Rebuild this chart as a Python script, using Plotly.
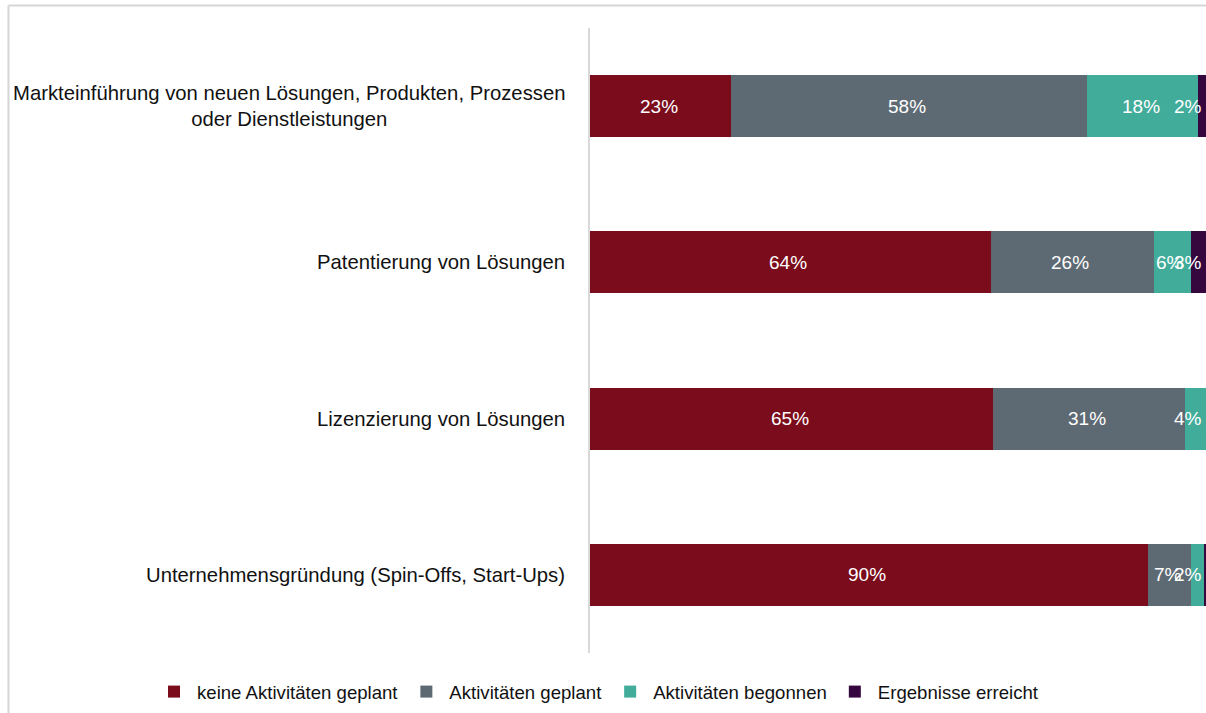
import plotly.graph_objects as go

# ---- data (percent shares as labelled in the chart) ----
categories = [
    "Markteinführung von neuen Lösungen, Produkten, Prozessen<br>oder Dienstleistungen",
    "Patentierung von Lösungen",
    "Lizenzierung von Lösungen",
    "Unternehmensgründung (Spin-Offs, Start-Ups)",
]
series_names = [
    "keine Aktivitäten geplant",
    "Aktivitäten geplant",
    "Aktivitäten begonnen",
    "Ergebnisse erreicht",
]
keine_aktivitaeten = [23, 64, 65, 90]
aktivitaeten_geplant = [58, 26, 31, 7]
aktivitaeten_begonnen = [18, 6, 4, 2]
ergebnisse_erreicht = [2, 3, 0, 1]

series_values = [keine_aktivitaeten, aktivitaeten_geplant,
                 aktivitaeten_begonnen, ergebnisse_erreicht]
colors = ["#7a0c1c", "#5e6a73", "#41ac9a", "#36063f"]

FONT = "Liberation Sans, Arial, sans-serif"
W, H = 1206, 713
ML, MR, MT, MB = 590, 0, 28, 60
plot_w = W - ML - MR
X_MAX = 99.35  # visible part of the 100 % axis (chart is cut at the right)

fig = go.Figure()
for name, vals, col in zip(series_names, series_values, colors):
    fig.add_trace(go.Bar(
        y=categories, x=vals, name=name, orientation="h",
        marker=dict(color=col, line=dict(width=0)),
        hoverinfo="x+name",
    ))

# data labels (white, centred in segment, pushed left if they would leave the chart)
annotations = []
for i, cat in enumerate(categories):
    total = sum(s[i] for s in series_values)
    cum = 0.0
    for s in series_values:
        v = s[i]
        share = v / total * 100
        mid = cum + share / 2
        cum += share
        if v < 2:
            continue
        txt = f"{v}%"
        half_px = 14
        mid_px = mid / X_MAX * plot_w
        if mid_px + half_px > plot_w - 5:
            annotations.append(dict(x=X_MAX, y=cat, xref="x", yref="y", text=txt,
                                    xanchor="right", xshift=-2, showarrow=False,
                                    font=dict(family=FONT, size=19, color="white")))
        else:
            annotations.append(dict(x=mid, y=cat, xref="x", yref="y", text=txt,
                                    xanchor="center", xshift=-2, showarrow=False,
                                    font=dict(family=FONT, size=19, color="white")))

# category labels (centre-aligned multi-line, right-anchored near the axis)
for cat in categories:
    annotations.append(dict(x=0, y=cat, xref="paper", yref="y", text=cat,
                            xanchor="right", xshift=-23, align="center",
                            showarrow=False,
                            font=dict(family=FONT, size=20.3, color="#111111")))

def px_x(px):
    return (px - ML) / plot_w

def px_y(py):
    return (H - MB - py) / (H - MT - MB)

shapes = [
    dict(type="line", xref="paper", yref="paper",
         x0=px_x(8.5), x1=px_x(1210), y0=px_y(5.5), y1=px_y(5.5),
         line=dict(color="#d6d6d6", width=2)),
    dict(type="line", xref="paper", yref="paper",
         x0=px_x(8.5), x1=px_x(8.5), y0=px_y(5.5), y1=px_y(716),
         line=dict(color="#d6d6d6", width=2)),
]

fig.update_layout(
    width=W, height=H, autosize=False,
    margin=dict(l=ML, r=MR, t=MT, b=MB, pad=0),
    barmode="stack", barnorm="percent", bargap=0.603,
    paper_bgcolor="white", plot_bgcolor="white",
    font=dict(family=FONT, size=18, color="#111111"),
    xaxis=dict(range=[0, X_MAX], showgrid=False, zeroline=False,
               showticklabels=False, showline=False, fixedrange=True),
    yaxis=dict(autorange="reversed", showgrid=False, zeroline=False,
               showticklabels=False, showline=True, linecolor="#d9d9d9",
               linewidth=1.5, ticks=""),
    legend=dict(orientation="h", x=px_x(151), xanchor="left",
                y=px_y(692), yanchor="middle", traceorder="normal",
                itemwidth=36,
                font=dict(family=FONT, size=18.6, color="#111111"),
                bgcolor="rgba(0,0,0,0)"),
    annotations=annotations,
    shapes=shapes,
    showlegend=True,
)

fig.write_html("out.html", config={"displayModeBar": False},
               post_script="document.body.style.margin='0';document.body.style.overflow='hidden';")
